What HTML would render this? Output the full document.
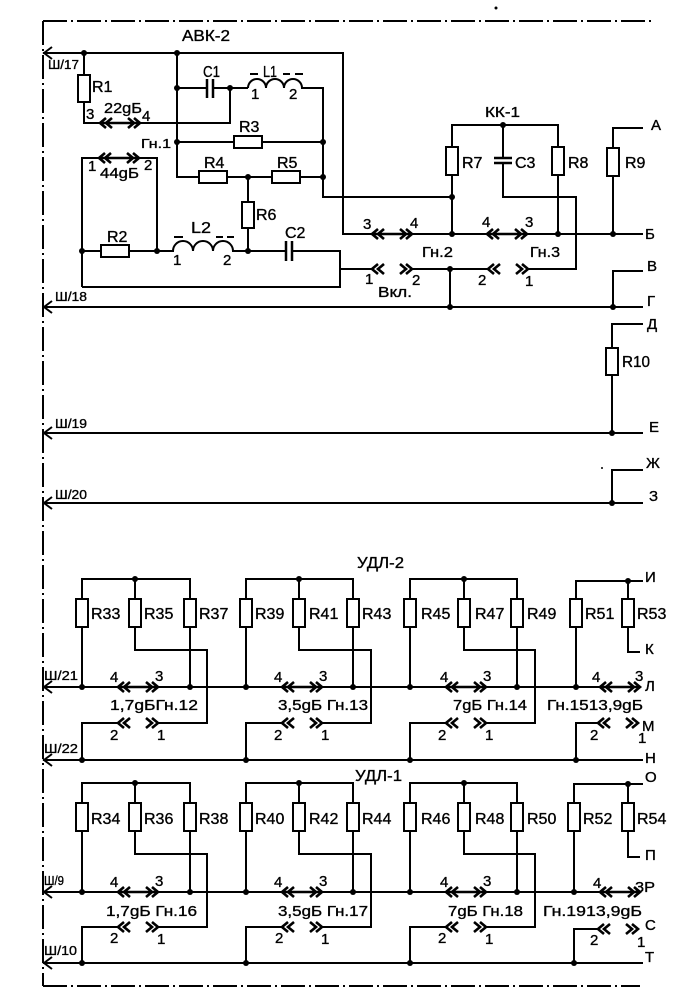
<!DOCTYPE html>
<html>
<head>
<meta charset="utf-8">
<style>
html,body{margin:0;padding:0;background:#fff;}
body{width:700px;height:994px;overflow:hidden;position:relative;}
svg{position:absolute;left:0;top:0;}
text{font-family:"Liberation Sans","DejaVu Sans",sans-serif;fill:#000;stroke:#000;stroke-width:0.35px;}
.r{font-size:16px;}
.p{font-size:15px;}
.l{font-size:15px;}
.s{font-size:13px;}
.w{fill:none;stroke:#000;stroke-width:2;stroke-linejoin:miter;}
.b{fill:#fff;stroke:#000;stroke-width:2;}
.dd{fill:none;stroke:#000;stroke-width:2;stroke-dasharray:24 4 2 4;}
.cn{fill:none;stroke:#000;stroke-width:2.6;}
</style>
</head>
<body>
<svg width="700" height="994" viewBox="0 0 700 994" xmlns="http://www.w3.org/2000/svg">
<defs>
<g id="ct"><path class="cn" d="M6,-5L0,0L6,5M12,-5L6,0L12,5M0,0H40M28,-5L34,0L28,5M34,-5L40,0L34,5"/></g>
<g id="cg"><path class="cn" d="M6,-5L0,0L6,5M12,-5L6,0L12,5M28,-5L34,0L28,5M34,-5L40,0L34,5"/></g>
</defs>

<!-- dash-dot frame -->
<line class="dd" x1="43" y1="21" x2="43" y2="986"/>
<line class="dd" x1="43" y1="21" x2="653" y2="21"/>
<line class="dd" x1="43" y1="986" x2="640" y2="986"/>
<circle cx="496" cy="8" r="1.5"/>
<circle cx="602" cy="468" r="1"/>

<!-- ================= АВК-2 ================= -->
<path class="w" d="M43,53H343V234H643"/>
<path class="w" d="M84,53V123H230V88"/>
<path class="w" d="M177,53V177H323"/>
<path class="w" d="M177,88H207M213,88H248"/>
<path class="w" d="M207,79V98M213,79V98" style="stroke-width:2.5"/>
<path class="w" d="M248,88a9,9 0 0 1 18,0a9,9 0 0 1 18,0a9,9 0 0 1 18,0H323V197H452"/>
<path class="w" d="M177,142H323"/>
<path class="w" d="M248,177V251"/>
<path class="w" d="M82,287V158H157V251"/>
<path class="w" d="M82,251H173a10,10 0 0 1 20,0a10,10 0 0 1 20,0a10,10 0 0 1 20,0H286"/>
<path class="w" d="M286,241V261M292,241V261" style="stroke-width:2.5"/>
<path class="w" d="M292,251H340V287H82"/>
<path class="w" d="M340,269H372M412,269H488M528,269H576V197H503V163"/>
<path class="w" d="M494,158H512M494,163H512" style="stroke-width:2.5"/>
<path class="w" d="M503,158V125"/>
<path class="w" d="M452,234V125H558V234"/>
<path class="w" d="M643,128H613V234"/>
<path class="w" d="M450,269V307"/>
<path class="w" d="M43,307H643"/>
<path class="w" d="M613,307V271H643"/>
<path class="w" d="M643,324H612V433"/>
<path class="w" d="M43,433H643"/>
<path class="w" d="M643,470H612V503"/>
<path class="w" d="M43,503H643"/>

<!-- Ш arrows -->
<path class="w" d="M52,47L44,53L52,59"/>
<path class="w" d="M52,301L44,307L52,313"/>
<path class="w" d="M52,427L44,433L52,439"/>
<path class="w" d="M52,497L44,503L52,509"/>
<path class="w" d="M52,681L44,687L52,693"/>
<path class="w" d="M52,754L44,760L52,766"/>
<path class="w" d="M52,886L44,892L52,898"/>
<path class="w" d="M52,957L44,963L52,969"/>

<!-- resistors АВК -->
<rect class="b" x="78" y="75" width="12" height="27"/>
<rect class="b" x="234" y="136" width="28" height="12"/>
<rect class="b" x="199" y="171" width="28" height="12"/>
<rect class="b" x="272" y="171" width="28" height="12"/>
<rect class="b" x="242" y="202" width="12" height="26"/>
<rect class="b" x="101" y="245" width="28" height="12"/>
<rect class="b" x="446" y="147" width="12" height="28"/>
<rect class="b" x="552" y="147" width="12" height="28"/>
<rect class="b" x="607" y="148" width="12" height="28"/>
<rect class="b" x="606" y="348" width="12" height="27"/>

<!-- connectors АВК -->
<use href="#ct" x="100" y="123"/>
<use href="#ct" x="99" y="158"/>
<use href="#ct" x="372" y="234"/>
<use href="#ct" x="487" y="234"/>
<use href="#cg" x="372" y="269"/>
<use href="#cg" x="488" y="269"/>

<!-- inductor dashes -->
<path class="w" d="M250,74H258M283,74H290M295,74H303"/>
<path class="w" d="M174,237H183M216,237H223M227,237H234"/>

<!-- nodes АВК -->
<g>
<circle cx="84" cy="53" r="3"/><circle cx="177" cy="53" r="3"/>
<circle cx="177" cy="88" r="3"/><circle cx="230" cy="88" r="3"/>
<circle cx="177" cy="142" r="3"/><circle cx="323" cy="142" r="3"/>
<circle cx="323" cy="177" r="3"/><circle cx="248" cy="177" r="3"/>
<circle cx="82" cy="251" r="3"/><circle cx="157" cy="251" r="3"/>
<circle cx="248" cy="251" r="3"/>
<circle cx="452" cy="197" r="3"/><circle cx="452" cy="234" r="3"/>
<circle cx="503" cy="125" r="3"/><circle cx="558" cy="234" r="3"/>
<circle cx="613" cy="234" r="3"/>
<circle cx="450" cy="269" r="3"/><circle cx="450" cy="307" r="3"/>
<circle cx="613" cy="307" r="3"/>
<circle cx="612" cy="433" r="3"/><circle cx="612" cy="503" r="3"/>
</g>

<!-- labels АВК -->
<text class="r" x="182" y="41" textLength="48" lengthAdjust="spacingAndGlyphs">АВК-2</text>
<text class="s" x="48" y="69" textLength="31" lengthAdjust="spacingAndGlyphs">Ш/17</text>
<text class="r" x="92" y="92">R1</text>
<text class="p" x="86" y="119">3</text>
<text class="l" x="104" y="113" textLength="38" lengthAdjust="spacingAndGlyphs">22gБ</text>
<text class="p" x="142" y="121">4</text>
<text class="r" x="203" y="77" textLength="17" lengthAdjust="spacingAndGlyphs">C1</text>
<text class="r" x="263" y="77" textLength="14" lengthAdjust="spacingAndGlyphs">L1</text>
<text class="p" x="251" y="99">1</text>
<text class="p" x="289" y="99">2</text>
<text class="r" x="239" y="132">R3</text>
<text class="s" x="141" y="148" textLength="30" lengthAdjust="spacingAndGlyphs">Гн.1</text>
<text class="r" x="204" y="168">R4</text>
<text class="r" x="277" y="168">R5</text>
<text class="r" x="256" y="220">R6</text>
<text class="p" x="88" y="171">1</text>
<text class="l" x="100" y="178" textLength="39" lengthAdjust="spacingAndGlyphs">44gБ</text>
<text class="p" x="144" y="170">2</text>
<text class="r" x="107" y="242">R2</text>
<text class="r" x="191" y="233" textLength="20" lengthAdjust="spacingAndGlyphs">L2</text>
<text class="p" x="173" y="265">1</text>
<text class="p" x="223" y="265">2</text>
<text class="r" x="285" y="238">C2</text>
<text class="l" x="485" y="117" textLength="35" lengthAdjust="spacingAndGlyphs">КК-1</text>
<text class="r" x="462" y="168">R7</text>
<text class="r" x="515" y="168">C3</text>
<text class="r" x="568" y="168">R8</text>
<text class="r" x="625" y="168">R9</text>
<text class="l" x="651" y="130">А</text>
<text class="l" x="645" y="239">Б</text>
<text class="p" x="363" y="229">3</text>
<text class="p" x="410" y="228">4</text>
<text class="p" x="482" y="227">4</text>
<text class="p" x="525" y="227">3</text>
<text class="l" x="422" y="257" textLength="31" lengthAdjust="spacingAndGlyphs">Гн.2</text>
<text class="l" x="530" y="257" textLength="30" lengthAdjust="spacingAndGlyphs">Гн.3</text>
<text class="p" x="365" y="284">1</text>
<text class="p" x="412" y="285">2</text>
<text class="l" x="378" y="297" textLength="34" lengthAdjust="spacingAndGlyphs">Вкл.</text>
<text class="p" x="478" y="285">2</text>
<text class="p" x="525" y="286">1</text>
<text class="l" x="647" y="271">В</text>
<text class="l" x="647" y="306">Г</text>
<text class="s" x="55" y="301" textLength="32" lengthAdjust="spacingAndGlyphs">Ш/18</text>
<text class="l" x="647" y="329">Д</text>
<text class="r" x="622" y="367" textLength="28" lengthAdjust="spacingAndGlyphs">R10</text>
<text class="s" x="55" y="428" textLength="32" lengthAdjust="spacingAndGlyphs">Ш/19</text>
<text class="l" x="649" y="432">Е</text>
<text class="l" x="646" y="468">Ж</text>
<text class="s" x="55" y="499" textLength="32" lengthAdjust="spacingAndGlyphs">Ш/20</text>
<text class="l" x="649" y="501">З</text>

<!-- ================= УДЛ-2 ================= -->
<path class="w" d="M43,687H640"/>
<path class="w" d="M43,760H643"/>
<path class="w" d="M82,687V579H190V687M135,579V650H207V723H158M118,723H82V760"/>
<path class="w" d="M246,687V579H353V687M299,579V650H371V723H322M282,723H246V760"/>
<path class="w" d="M410,687V579H517V687M464,579V650H535V723H486M446,723H410V760"/>
<path class="w" d="M643,581H576V687M628,581V652H640M598,723H576V760"/>
<g>
<rect class="b" x="76" y="599" width="12" height="28"/>
<rect class="b" x="129" y="599" width="12" height="28"/>
<rect class="b" x="184" y="599" width="12" height="28"/>
<rect class="b" x="240" y="599" width="12" height="28"/>
<rect class="b" x="293" y="599" width="12" height="28"/>
<rect class="b" x="347" y="599" width="12" height="28"/>
<rect class="b" x="404" y="599" width="12" height="28"/>
<rect class="b" x="458" y="599" width="12" height="28"/>
<rect class="b" x="511" y="599" width="12" height="28"/>
<rect class="b" x="570" y="599" width="12" height="28"/>
<rect class="b" x="622" y="599" width="12" height="28"/>
</g>
<use href="#ct" x="118" y="687"/><use href="#cg" x="118" y="723"/>
<use href="#ct" x="282" y="687"/><use href="#cg" x="282" y="723"/>
<use href="#ct" x="446" y="687"/><use href="#cg" x="446" y="723"/>
<use href="#ct" x="600" y="687"/><use href="#cg" x="598" y="723"/>
<g>
<circle cx="135" cy="579" r="3"/><circle cx="299" cy="579" r="3"/>
<circle cx="464" cy="579" r="3"/><circle cx="628" cy="581" r="3"/>
<circle cx="82" cy="687" r="3"/><circle cx="190" cy="687" r="3"/>
<circle cx="246" cy="687" r="3"/><circle cx="353" cy="687" r="3"/>
<circle cx="410" cy="687" r="3"/><circle cx="517" cy="687" r="3"/>
<circle cx="576" cy="687" r="3"/>
<circle cx="82" cy="760" r="3"/><circle cx="246" cy="760" r="3"/>
<circle cx="410" cy="760" r="3"/><circle cx="576" cy="760" r="3"/>
</g>
<text class="r" x="357" y="568" textLength="47" lengthAdjust="spacingAndGlyphs">УДЛ-2</text>
<text class="s" x="44" y="680" textLength="34" lengthAdjust="spacingAndGlyphs">Ш/21</text>
<text class="s" x="44" y="753" textLength="34" lengthAdjust="spacingAndGlyphs">Ш/22</text>
<text class="r" x="91" y="619">R33</text>
<text class="r" x="144" y="619">R35</text>
<text class="r" x="199" y="619">R37</text>
<text class="r" x="255" y="619">R39</text>
<text class="r" x="309" y="619">R41</text>
<text class="r" x="362" y="619">R43</text>
<text class="r" x="421" y="619">R45</text>
<text class="r" x="475" y="619">R47</text>
<text class="r" x="527" y="619">R49</text>
<text class="r" x="585" y="619">R51</text>
<text class="r" x="637" y="619">R53</text>
<text class="p" x="110" y="682">4</text><text class="p" x="155" y="681">3</text>
<text class="p" x="110" y="740">2</text><text class="p" x="157" y="740">1</text>
<text class="p" x="274" y="682">4</text><text class="p" x="319" y="681">3</text>
<text class="p" x="274" y="740">2</text><text class="p" x="321" y="740">1</text>
<text class="p" x="440" y="682">4</text><text class="p" x="483" y="681">3</text>
<text class="p" x="438" y="740">2</text><text class="p" x="485" y="740">1</text>
<text class="l" x="110" y="710" textLength="88" lengthAdjust="spacingAndGlyphs">1,7gБГн.12</text>
<text class="l" x="278" y="710" textLength="90" lengthAdjust="spacingAndGlyphs">3,5gБ Гн.13</text>
<text class="l" x="453" y="710" textLength="74" lengthAdjust="spacingAndGlyphs">7gБ Гн.14</text>
<text class="l" x="547" y="710" textLength="96" lengthAdjust="spacingAndGlyphs">Гн.1513,9gБ</text>
<text class="l" x="645" y="582">И</text>
<text class="l" x="645" y="654">К</text>
<text class="p" x="592" y="682">4</text><text class="p" x="635" y="681">3</text>
<text class="l" x="645" y="691">Л</text>
<text class="p" x="590" y="740">2</text><text class="p" x="638" y="743">1</text>
<text class="l" x="642" y="731">М</text>
<text class="l" x="645" y="763">Н</text>

<!-- ================= УДЛ-1 ================= -->
<path class="w" d="M43,892H640"/>
<path class="w" d="M43,963H643"/>
<path class="w" d="M82,892V783H190V892M135,783V854H207V927H158M118,927H82V963"/>
<path class="w" d="M246,892V783H353V892M299,783V854H371V927H322M282,927H246V963"/>
<path class="w" d="M410,892V783H517V892M464,783V854H535V927H486M446,927H410V963"/>
<path class="w" d="M643,784H574V892M628,784V857H640M598,929H574V963"/>
<g>
<rect class="b" x="76" y="803" width="12" height="28"/>
<rect class="b" x="129" y="803" width="12" height="28"/>
<rect class="b" x="184" y="803" width="12" height="28"/>
<rect class="b" x="240" y="803" width="12" height="28"/>
<rect class="b" x="293" y="803" width="12" height="28"/>
<rect class="b" x="347" y="803" width="12" height="28"/>
<rect class="b" x="404" y="803" width="12" height="28"/>
<rect class="b" x="458" y="803" width="12" height="28"/>
<rect class="b" x="511" y="803" width="12" height="28"/>
<rect class="b" x="568" y="803" width="12" height="28"/>
<rect class="b" x="622" y="803" width="12" height="28"/>
</g>
<use href="#ct" x="118" y="892"/><use href="#cg" x="118" y="927"/>
<use href="#ct" x="282" y="892"/><use href="#cg" x="282" y="927"/>
<use href="#ct" x="446" y="892"/><use href="#cg" x="446" y="927"/>
<use href="#ct" x="600" y="892"/><use href="#cg" x="598" y="929"/>
<g>
<circle cx="135" cy="783" r="3"/><circle cx="299" cy="783" r="3"/>
<circle cx="464" cy="783" r="3"/><circle cx="628" cy="784" r="3"/>
<circle cx="82" cy="892" r="3"/><circle cx="190" cy="892" r="3"/>
<circle cx="246" cy="892" r="3"/><circle cx="353" cy="892" r="3"/>
<circle cx="410" cy="892" r="3"/><circle cx="517" cy="892" r="3"/>
<circle cx="574" cy="892" r="3"/>
<circle cx="82" cy="963" r="3"/><circle cx="246" cy="963" r="3"/>
<circle cx="410" cy="963" r="3"/><circle cx="574" cy="963" r="3"/>
</g>
<text class="r" x="355" y="781" textLength="47" lengthAdjust="spacingAndGlyphs">УДЛ-1</text>
<text class="s" x="44" y="885" textLength="20" lengthAdjust="spacingAndGlyphs">Ш/9</text>
<text class="s" x="44" y="955" textLength="33" lengthAdjust="spacingAndGlyphs">Ш/10</text>
<text class="r" x="91" y="824">R34</text>
<text class="r" x="144" y="824">R36</text>
<text class="r" x="199" y="824">R38</text>
<text class="r" x="255" y="824">R40</text>
<text class="r" x="309" y="824">R42</text>
<text class="r" x="362" y="824">R44</text>
<text class="r" x="421" y="824">R46</text>
<text class="r" x="475" y="824">R48</text>
<text class="r" x="527" y="824">R50</text>
<text class="r" x="583" y="824">R52</text>
<text class="r" x="637" y="824">R54</text>
<text class="p" x="110" y="887">4</text><text class="p" x="155" y="886">3</text>
<text class="p" x="110" y="943">2</text><text class="p" x="157" y="944">1</text>
<text class="p" x="274" y="887">4</text><text class="p" x="319" y="886">3</text>
<text class="p" x="275" y="943">2</text><text class="p" x="321" y="944">1</text>
<text class="p" x="440" y="887">4</text><text class="p" x="483" y="886">3</text>
<text class="p" x="438" y="943">2</text><text class="p" x="485" y="944">1</text>
<text class="l" x="106" y="916" textLength="91" lengthAdjust="spacingAndGlyphs">1,7gБ Гн.16</text>
<text class="l" x="278" y="916" textLength="90" lengthAdjust="spacingAndGlyphs">3,5gБ Гн.17</text>
<text class="l" x="448" y="916" textLength="75" lengthAdjust="spacingAndGlyphs">7gБ Гн.18</text>
<text class="l" x="543" y="916" textLength="99" lengthAdjust="spacingAndGlyphs">Гн.1913,9gБ</text>
<text class="l" x="645" y="782">О</text>
<text class="l" x="645" y="860">П</text>
<text class="p" x="593" y="888">4</text>
<text class="l" x="635" y="892" textLength="20" lengthAdjust="spacingAndGlyphs">3Р</text>
<text class="p" x="590" y="945">2</text><text class="p" x="637" y="947">1</text>
<text class="l" x="645" y="930">С</text>
<text class="l" x="645" y="962">Т</text>
</svg>
</body>
</html>
